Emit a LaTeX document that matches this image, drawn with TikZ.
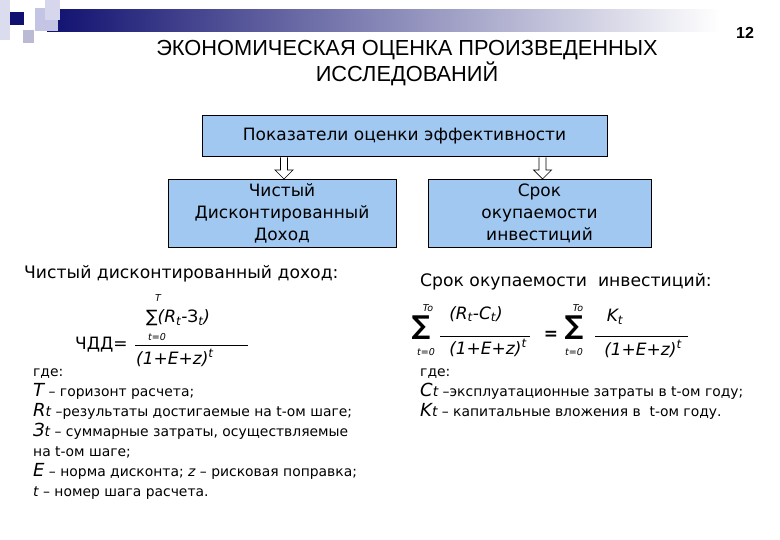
\documentclass[tikz,border=0pt]{standalone}
\usepackage{fontspec}
\setmainfont{DejaVu Sans}
\newfontfamily\titlefont{Liberation Sans}
\usetikzlibrary{arrows.meta,positioning,calc}
\definecolor{boxblue}{RGB}{160,200,240}
\definecolor{barnavy}{RGB}{16,16,112}
\definecolor{decolav}{RGB}{196,196,228}
\newcommand\bigsym[1]{{\fontsize{18}{20}\selectfont\itshape #1}}
\newcommand\lowt{\textsubscript{\itshape t}}
% hollow block arrow from #1 (top) down to #2 (bottom)
\newcommand\hollowdown[2]{%
  \draw[arrow] ($(#1)+(-3.5,0)$) -- ($(#2)+(-3.5,-9)$) -- ($(#2)+(-9,-9)$) -- (#2)
    -- ($(#2)+(9,-9)$) -- ($(#2)+(3.5,-9)$) -- ($(#1)+(3.5,0)$);}
\tikzset{
  every node/.append style={inner sep=0pt},
  box/.style={draw, fill=boxblue, line width=1pt, align=center,
    font=\fontsize{17}{22}\selectfont},
  arrow/.style={fill=white, line width=0.7pt, line join=miter},
  head/.style={font=\fontsize{17.2}{18}\selectfont, anchor=west},
  lim/.style={font=\fontsize{9.5}{10}\selectfont\itshape},
  expr/.style={font=\fontsize{17}{18}\selectfont\itshape},
  plain/.style={font=\fontsize{17}{18}\selectfont},
  sumsign/.style={font=\bfseries\fontsize{26}{26}\selectfont},
  note/.style={font=\fontsize{13.9}{20}\selectfont, align=left, anchor=north west},
  fracbar/.style={line width=0.8pt}
}
\begin{document}
\begin{tikzpicture}[x=1pt, y=-1pt]
\useasboundingbox (0,0) rectangle (780,540);

% ---- slide decoration ----
\fill[decolav!60] (0,0) rectangle (10,40);
\shade[left color=barnavy, right color=white] (47,10) rectangle (720,32);
\fill[decolav] (35,8) rectangle (58,31);
\fill[decolav!70] (45,0) rectangle (60,20);
\fill[barnavy] (10,12) rectangle (24,25);
\fill[decolav!85!gray] (23,30) rectangle (34,43);
\node[font=\titlefont\bfseries\fontsize{16}{18}\selectfont] (pageno) at (745,33) {12};

% ---- title ----
\node[font=\titlefont\fontsize{21.8}{26}\selectfont, align=center] (title) at (407,63)
  {ЭКОНОМИЧЕСКАЯ ОЦЕНКА ПРОИЗВЕДЕННЫХ\\ИССЛЕДОВАНИЙ};

% ---- boxes ----
\node[box, minimum width=405pt, minimum height=41pt] (top) at (404.5,136.5)
  {Показатели оценки эффективности};
\node[box, minimum width=228pt, minimum height=68pt] (ndd) at (282,213.5)
  {Чистый\\Дисконтированный\\Доход};
\node[box, minimum width=223pt, minimum height=68pt] (payback) at (539.5,213.5)
  {Срок\\окупаемости\\инвестиций};

\coordinate (nddin) at ([xshift=2pt]ndd.north);
\coordinate (pbin) at ([xshift=3pt]payback.north);
\hollowdown{nddin |- top.south}{nddin}
\hollowdown{pbin |- top.south}{pbin}

% ---- left: net present value ----
\node[head] (nddhead) at (24,274) {Чистый дисконтированный доход:};
\node[lim] (nddT) at (158,298) {T};
\node[expr, anchor=west] (nddnum) at (146,318) {\upshape∑\itshape(R\lowt-\upshape З\lowt\itshape)};
\node[lim] (nddt0) at (157,337) {t=0};
\node[plain, anchor=west] (nddlbl) at (75,345) {ЧДД=};
\coordinate (nddbarL) at (135,345);
\coordinate (nddbarR) at (248,345);
\draw[fracbar] (nddbarL) -- (nddbarR);
\node[expr, anchor=west] (ndden) at (136,358) {(1+E+z)\textsuperscript{t}};

\node[note] (nddnote) at (33,369)
  {где:\\
   \bigsym{T} – горизонт расчета;\\
   \bigsym{R}{\itshape t} –результаты достигаемые на t-ом шаге;\\
   \bigsym{З}{\itshape t} – суммарные затраты, осуществляемые\\
   на t-ом шаге;\\
   \bigsym{E} – норма дисконта; {\itshape z} – рисковая поправка;\\
   {\itshape t} – номер шага расчета.};

% ---- right: payback period ----
\node[head] (pbhead) at (420,282) {Срок окупаемости\ \ инвестиций:};
\node[sumsign] (sumA) at (421,328) {∑};
\node[lim] (sumAtop) at (428,308) {To};
\node[lim] (sumAbot) at (426,352) {t=0};
\node[expr] (pbnum) at (476,314) {(R\lowt-C\lowt)};
\coordinate (pbbarAL) at (440,336);
\coordinate (pbbarAR) at (530,336);
\draw[fracbar] (pbbarAL) -- (pbbarAR);
\node[expr] (pbdenA) at (488,348) {(1+E+z)\textsuperscript{t}};
\node[font=\bfseries\fontsize{17}{18}\selectfont] (pbeq) at (551,335) {=};
\node[sumsign] (sumB) at (574,328) {∑};
\node[lim] (sumBtop) at (578,308) {To};
\node[lim] (sumBbot) at (574,352) {t=0};
\node[expr] (pbK) at (615,317) {K\lowt};
\coordinate (pbbarBL) at (595,336);
\coordinate (pbbarBR) at (688,336);
\draw[fracbar] (pbbarBL) -- (pbbarBR);
\node[expr] (pbdenB) at (643,349) {(1+E+z)\textsuperscript{t}};

\node[note] (pbnote) at (420,369)
  {где:\\
   \bigsym{C}{\itshape t} –эксплуатационные затраты в t-ом году;\\
   \bigsym{K}{\itshape t} – капитальные вложения в\ \ t-ом году.};

\end{tikzpicture}
\end{document}
